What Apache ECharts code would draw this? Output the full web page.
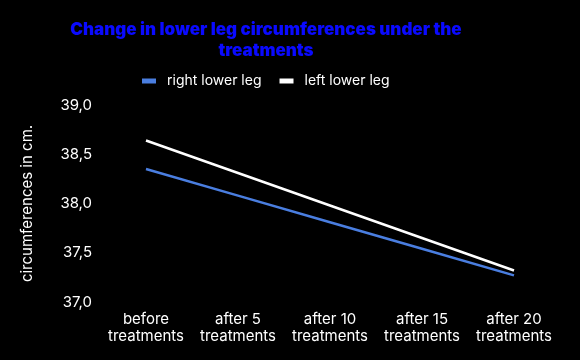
<!DOCTYPE html>
<html><head><meta charset="utf-8">
<script src="https://cdn.jsdelivr.net/npm/echarts@6/dist/echarts.min.js"></script>
<style>html,body{margin:0;padding:0;background:#000}#c{width:580px;height:360px}</style>
</head><body><div id="c"></div>
<script>
const categories = ['before\ntreatments', 'after 5\ntreatments', 'after 10\ntreatments', 'after 15\ntreatments', 'after 20\ntreatments'];
const rightLeg = [38.35, 38.08, 37.81, 37.54, 37.27];
const leftLeg = [38.64, 38.31, 37.98, 37.65, 37.32];
const yTicks = [37.0, 37.5, 38.0, 38.5, 39.0];

const chart = echarts.init(document.getElementById('c'));
chart.setOption({
  backgroundColor: '#000',
  animation: false,
  title: {
    text: 'Change in lower leg circumferences under the\ntreatments',
    left: 261, textAlign: 'center', top: 14,
    textStyle: { color: '#0a0aff', fontFamily: 'Inter', fontWeight: 900, fontSize: 17, lineHeight: 21 }
  },
  legend: {
    top: 69, left: 137, itemWidth: 14, itemHeight: 5, itemGap: 18,
    textStyle: { color: '#fff', fontFamily: 'Inter', fontSize: 14, padding: [0, 0, 0, 6] },
    data: [{ name: 'right lower leg', icon: 'rect' }, { name: 'left lower leg', icon: 'rect' }]
  },
  grid: { left: 146, right: 66, top: 105, bottom: 58 },
  xAxis: {
    type: 'category', data: categories, boundaryGap: false,
    axisLine: { show: false }, axisTick: { show: false },
    axisLabel: { color: '#fff', fontFamily: 'Inter', fontSize: 15, lineHeight: 17, margin: 9, interval: 0 }
  },
  yAxis: {
    type: 'value', min: 37, max: 39, interval: 0.5,
    name: 'circumferences in cm.', nameLocation: 'middle', nameGap: 111, nameRotate: 90,
    nameTextStyle: { color: '#fff', fontFamily: 'Inter', fontSize: 15 },
    splitLine: { show: false }, axisLine: { show: false }, axisTick: { show: false },
    axisLabel: { color: '#fff', fontFamily: 'Inter', fontSize: 15, margin: 54,
      formatter: v => v.toFixed(1).replace('.', ',') }
  },
  series: [
    { name: 'right lower leg', type: 'line', data: rightLeg, showSymbol: false, symbol: 'none',
      color: '#4a7ee0', lineStyle: { width: 2.5, color: '#4a7ee0' } },
    { name: 'left lower leg', type: 'line', data: leftLeg, showSymbol: false, symbol: 'none',
      color: '#ffffff', lineStyle: { width: 2.5, color: '#ffffff' } }
  ]
});
</script></body></html>
